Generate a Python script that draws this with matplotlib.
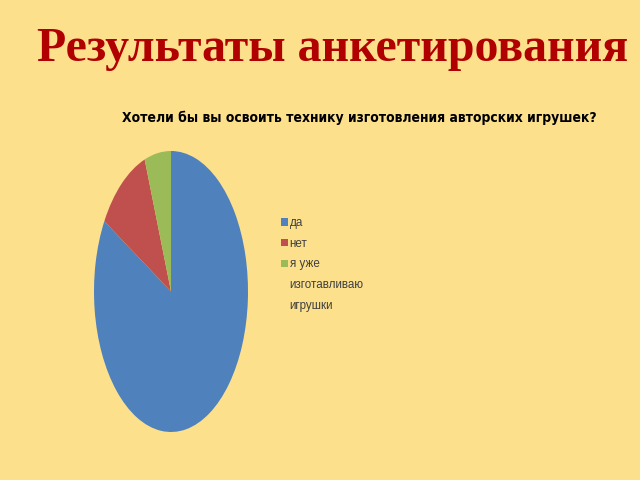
import matplotlib
matplotlib.use("Agg")
import matplotlib.pyplot as plt
from matplotlib.patches import Patch

labels = ['да', 'нет', 'я уже\nизготавливаю\nигрушки']
values = [15, 2, 1]
colors = ['#4F81BD', '#C0504D', '#9BBB59']

title = 'Результаты анкетирования'
subtitle = 'Хотели бы вы освоить технику изготовления авторских игрушек?'

bg = '#FCE08C'
fig = plt.figure(figsize=(6.4, 4.8), dpi=100, facecolor=bg)

# main title
fig.text(0.52, 0.897, title, ha='center', va='center', fontsize=34.5,
         fontweight='bold', family='Liberation Serif', color='#B00000')
# chart title (narrow font)
fig.text(0.561, 0.754, subtitle, ha='center', va='center', fontsize=10,
         family='DejaVu Sans', fontstretch='condensed', fontweight='bold', color='#000000')

# pie, stretched into an ellipse
ax = fig.add_axes([94 / 640, 48 / 480, 154 / 640, 281 / 480])
ax.set_facecolor('none')
wedges, _ = ax.pie(values, colors=colors, startangle=90, counterclock=False,
                   wedgeprops=dict(linewidth=0))
ax.set_aspect('auto')
ax.set_xlim(-1, 1)
ax.set_ylim(-1, 1)

# legend: one row per text line, square only on the first line of each label
handles, texts = [], []
for w, lab in zip(wedges, labels):
    for i, line in enumerate(lab.split('\n')):
        handles.append(w if i == 0 else Patch(facecolor='none', edgecolor='none'))
        texts.append(line)

leg = fig.legend(handles, texts, loc='upper left',
                 bbox_to_anchor=(281 / 640, 1 - 217 / 480),
                 frameon=False, handlelength=0.6, handleheight=0.6,
                 handletextpad=0.15, labelspacing=0.75, borderaxespad=0, borderpad=0,
                 prop=dict(family='Liberation Sans', size=8.4))
for t in leg.get_texts():
    t.set_color('#404040')

fig.savefig('out.png', dpi=100, facecolor=bg)
